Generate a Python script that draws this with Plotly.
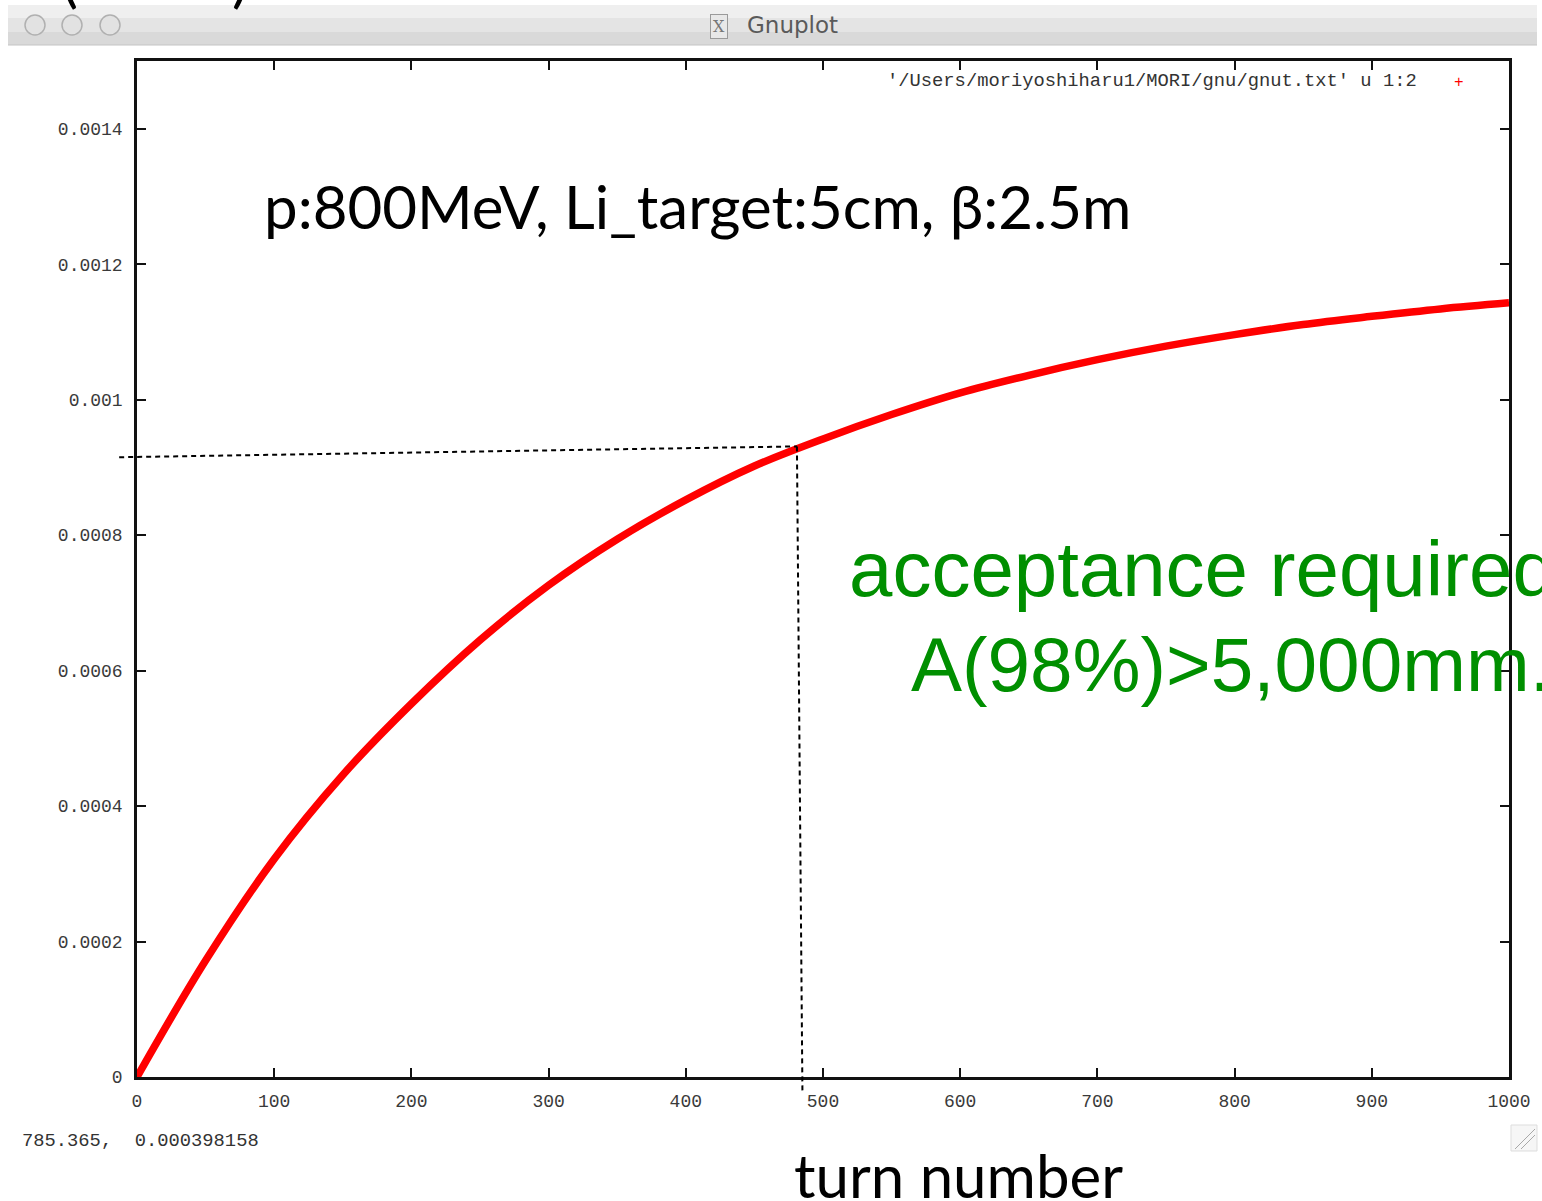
import plotly.graph_objects as go

# ---- data ----
TURN = [0, 50, 100, 150, 200, 250, 300, 350, 400, 450, 500,
        550, 600, 650, 700, 750, 800, 850, 900, 950, 1000]
VALUE = [0.0, 0.000172, 0.000322, 0.000446, 0.000551, 0.000645, 0.000726,
         0.000794, 0.000852, 0.000902, 0.000942, 0.000978, 0.001010,
         0.001036, 0.001059, 0.001079, 0.001096, 0.001111, 0.001123,
         0.001134, 0.001143]

X_TICKS = [0, 100, 200, 300, 400, 500, 600, 700, 800, 900, 1000]
X_LABELS = ["0", "100", "200", "300", "400", "500", "600", "700", "800", "900", "1000"]
Y_TICKS = [0, 0.0002, 0.0004, 0.0006, 0.0008, 0.001, 0.0012, 0.0014]
Y_LABELS = ["0", "0.0002", "0.0004", "0.0006", "0.0008", "0.001", "0.0012", "0.0014"]
X_RANGE = [0, 1000]
Y_RANGE = [0, 0.0015]

# guide lines drawn on the slide (turn, value)
GUIDE_H_X = [-13, 481]
GUIDE_H_Y = [0.000915, 0.000931]
GUIDE_V_X = [481, 485]
GUIDE_V_Y = [0.000931, -0.00002]

KEY_TEXT = "'/Users/moriyoshiharu1/MORI/gnu/gnut.txt' u 1:2"
MOUSE_TEXT = "785.365,  0.000398158"
NOTE_TEXT = "p:800MeV, Li_target:5cm, \u03b2:2.5m"
GREEN_1 = "acceptance required"
GREEN_2 = "A(98%)>5,000mm."
XLABEL_TEXT = "turn number"
WINDOW_TITLE = "Gnuplot"

# ---- layout geometry (pixels of the 1542x1201 page) ----
W, H = 1542, 1201
L, R, T, B = 137, 1509, 61, 1077


def px(x):
    return (x - L) / (R - L)


def py(y):
    return (B - y) / (B - T)


def xd(v):
    return (v - X_RANGE[0]) / (X_RANGE[1] - X_RANGE[0])


def yd(v):
    return (v - Y_RANGE[0]) / (Y_RANGE[1] - Y_RANGE[0])


fig = go.Figure()
fig.add_trace(go.Scatter(
    x=TURN, y=VALUE, mode="lines",
    line=dict(color="rgb(255,0,0)", width=7.5, shape="spline"),
    hoverinfo="skip", showlegend=False,
))

tick_font = dict(family="Liberation Mono", size=18, color="#3a3a3a")
axis_common = dict(
    showline=True, linecolor="#111", linewidth=2.5, mirror="ticks",
    ticks="inside", ticklen=9, tickwidth=2, tickcolor="#111",
    showgrid=False, zeroline=False, tickfont=tick_font,
)
fig.update_xaxes(range=X_RANGE, tickmode="array", tickvals=X_TICKS,
                 ticktext=X_LABELS, ticklabelstandoff=6, **axis_common)
fig.update_yaxes(range=Y_RANGE, tickmode="array", tickvals=Y_TICKS,
                 ticktext=Y_LABELS, ticklabelstandoff=8, **axis_common)

shapes = []
# window title bar
shapes.append(dict(type="rect", xref="paper", yref="paper",
                   x0=px(8), x1=px(1537), y0=py(18), y1=py(5),
                   fillcolor="#efefef", line=dict(width=0), layer="below"))
shapes.append(dict(type="rect", xref="paper", yref="paper",
                   x0=px(8), x1=px(1537), y0=py(32), y1=py(18),
                   fillcolor="#e4e4e4", line=dict(width=0), layer="below"))
shapes.append(dict(type="rect", xref="paper", yref="paper",
                   x0=px(8), x1=px(1537), y0=py(45), y1=py(32),
                   fillcolor="#d9d9d9", line=dict(width=0), layer="below"))
shapes.append(dict(type="line", xref="paper", yref="paper",
                   x0=px(8), x1=px(1537), y0=py(45), y1=py(45),
                   line=dict(color="#c4c4c4", width=1)))
for cx in (35, 72, 110):
    shapes.append(dict(type="circle", xref="paper", yref="paper",
                       x0=px(cx - 10), x1=px(cx + 10), y0=py(35), y1=py(15),
                       fillcolor="#e2e2e2", line=dict(color="#b0b0b0", width=1.5)))
# resize grip (bottom right of the window)
shapes.append(dict(type="rect", xref="paper", yref="paper",
                   x0=px(1511), x1=px(1537), y0=py(1151), y1=py(1125),
                   fillcolor="#f6f6f6", line=dict(color="#dddddd", width=1)))
for d in (6, 12):
    shapes.append(dict(type="line", xref="paper", yref="paper",
                       x0=px(1535 - d - 8), x1=px(1535), y0=py(1149), y1=py(1149 - d - 8),
                       line=dict(color="#a8a8a8", width=1)))
# guide lines
shapes.append(dict(type="line", xref="x domain", yref="y domain",
                   x0=xd(GUIDE_H_X[0]), x1=xd(GUIDE_H_X[1]),
                   y0=yd(GUIDE_H_Y[0]), y1=yd(GUIDE_H_Y[1]),
                   line=dict(color="black", width=2, dash="5px,4px"), layer="above"))
shapes.append(dict(type="line", xref="x domain", yref="y domain",
                   x0=xd(GUIDE_V_X[0]), x1=xd(GUIDE_V_X[1]),
                   y0=yd(GUIDE_V_Y[0]), y1=yd(GUIDE_V_Y[1]),
                   line=dict(color="black", width=2, dash="5px,4px"), layer="above"))

annotations = [
    dict(text="(", x=px(70), y=py(-22), xanchor="center", yanchor="middle",
         font=dict(family="Lato", size=60, color="black")),
    dict(text=")", x=px(240), y=py(-22), xanchor="center", yanchor="middle",
         font=dict(family="Lato", size=60, color="black")),
    dict(text=WINDOW_TITLE, x=px(745), y=py(25), xanchor="left", yanchor="middle",
         font=dict(family="DejaVu Sans", size=23, color="#5a5a5a")),
    dict(text="X", x=px(719), y=py(26), xanchor="center", yanchor="middle",
         font=dict(family="DejaVu Serif", size=16, color="#777"),
         bordercolor="#9a9a9a", borderwidth=1, borderpad=2, bgcolor="#e8e8e8"),
    dict(text=KEY_TEXT, x=px(1419), y=py(81), xanchor="right", yanchor="middle",
         font=dict(family="Liberation Mono", size=18.8, color="#333")),
    dict(text="+", x=px(1459), y=py(83), xanchor="center", yanchor="middle",
         font=dict(family="Liberation Mono", size=16, color="red")),
    dict(text=MOUSE_TEXT, x=px(20), y=py(1141), xanchor="left", yanchor="middle",
         font=dict(family="Liberation Mono", size=18.8, color="#333")),
    dict(text=NOTE_TEXT, x=px(262), y=py(206), xanchor="left", yanchor="middle",
         font=dict(family="Lato", size=60, color="black")),
    dict(text=GREEN_1, x=px(847), y=py(569), xanchor="left", yanchor="middle",
         font=dict(family="Liberation Sans", size=78, color="#008f00")),
    dict(text=GREEN_2, x=px(909), y=py(664), xanchor="left", yanchor="middle",
         font=dict(family="Liberation Sans", size=76.5, color="#008f00")),
    dict(text=XLABEL_TEXT, x=px(792), y=py(1175), xanchor="left", yanchor="middle",
         font=dict(family="Lato", size=60, color="black")),
]
for a in annotations:
    a.update(xref="paper", yref="paper", showarrow=False)

fig.update_layout(
    width=W, height=H,
    margin=dict(l=L, r=W - R, t=T, b=H - B),
    paper_bgcolor="white", plot_bgcolor="white",
    showlegend=False, shapes=shapes, annotations=annotations,
)

fig.write_html("out.html",
               config={"displayModeBar": False},
               post_script="document.body.style.margin='0';document.body.style.overflow='hidden';")
